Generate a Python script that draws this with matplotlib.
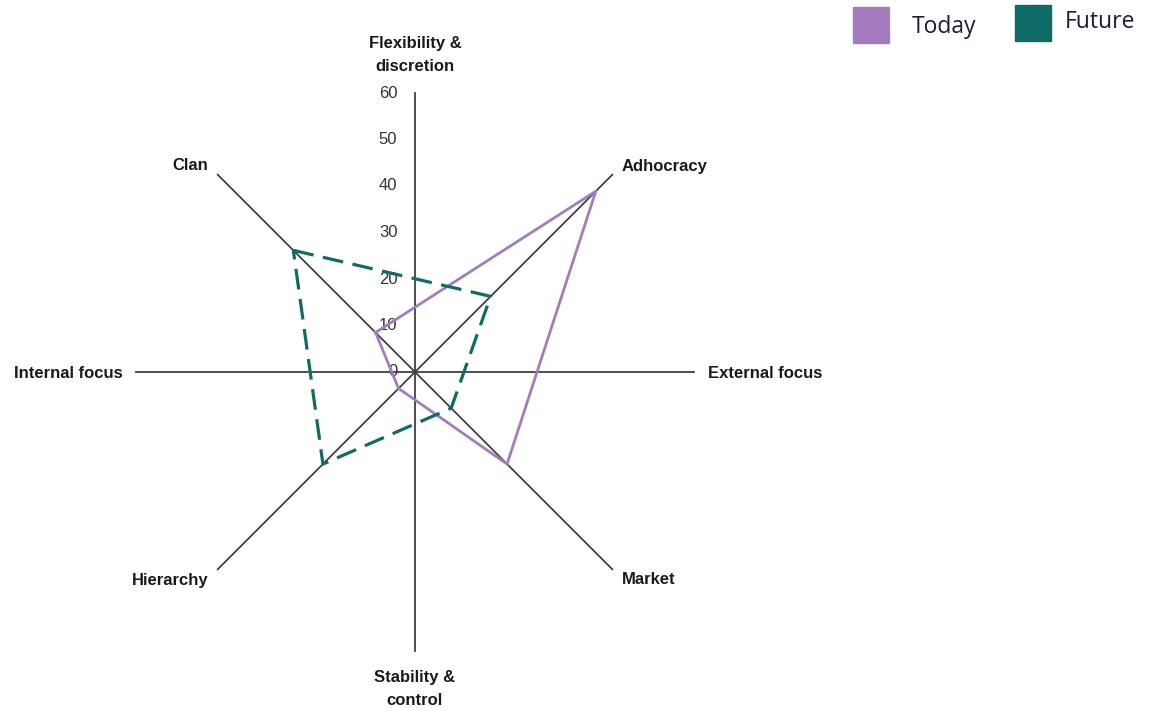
import numpy as np
import matplotlib.pyplot as plt
from matplotlib.patches import Rectangle

# competing values framework, 4 quadrants
quadrants = ['Clan', 'Adhocracy', 'Market', 'Hierarchy']
angles_deg = [135, 45, 315, 225]
today = [12, 55, 28, 5]
future = [37, 23, 11, 28]
ticks = [0, 10, 20, 30, 40, 50, 60]
r_max = 60

purple = '#A57BBE'
teal = '#0F6B66'
axis_col = '#404040'

W, H = 1155, 711
fig = plt.figure(figsize=(W / 100, H / 100), dpi=100)
ax = fig.add_axes([0, 0, 1, 1])

# pixel -> data scale: 4.65 px per unit, centre at (415, 372)
ppu = 4.65
cx, cy = 415, 372
ax.set_xlim(-cx / ppu, (W - cx) / ppu)
ax.set_ylim(-(H - cy) / ppu, cy / ppu)
ax.axis('off')

# spokes
ax.plot([-r_max, r_max], [0, 0], color=axis_col, lw=1.3, zorder=1)
ax.plot([0, 0], [-r_max, r_max], color=axis_col, lw=1.3, zorder=1)
for a in angles_deg:
    t = np.radians(a)
    ax.plot([0, r_max * np.cos(t)], [0, r_max * np.sin(t)], color=axis_col, lw=1.3, zorder=1)

# tick labels on vertical axis
for v in ticks:
    ax.text(-3.8, v, str(v), ha='right', va='center', fontsize=12,
            family='Liberation Sans', color='#333333', zorder=2)

def xy(vals):
    t = np.radians(angles_deg + angles_deg[:1])
    r = np.array(vals + vals[:1])
    return r * np.cos(t), r * np.sin(t)

x, y = xy(today)
ax.plot(x, y, color=purple, lw=2, zorder=3)
x, y = xy(future)
ax.plot(x, y, color=teal, lw=2.3, dashes=(6.5, 3), zorder=3)

lab = dict(fontsize=12, fontweight='bold', family='Liberation Sans', color='#1a1a1a')
def at(px, py):
    return (px - cx) / ppu, (cy - py) / ppu

ax.text(*at(415, 55), 'Flexibility &\ndiscretion', ha='center', va='center', linespacing=1.6, **lab)
ax.text(*at(415, 689), 'Stability &\ncontrol', ha='center', va='center', linespacing=1.6, **lab)
ax.text(*at(123, 373), 'Internal focus', ha='right', va='center', **lab)
ax.text(*at(708, 373), 'External focus', ha='left', va='center', **lab)
ax.text(*at(208, 166), 'Clan', ha='right', va='center', **lab)
ax.text(*at(622, 166), 'Adhocracy', ha='left', va='center', **lab)
ax.text(*at(209, 580), 'Hierarchy', ha='right', va='center', **lab)
ax.text(*at(622, 580), 'Market', ha='left', va='center', **lab)

# legend drawn by hand, top right
def fig_rect(px, py, w, h, c):
    fig.add_artist(Rectangle((px / W, 1 - (py + h) / H), w / W, h / H,
                             transform=fig.transFigure, color=c))

fig_rect(853, 7, 36, 36, purple)
fig_rect(1015, 5, 36, 36, teal)
fig.text(912 / W, 1 - 27 / H, 'Today', ha='left', va='center', fontsize=16.5,
         family='Open Sans', color='#1b1b3a')
fig.text(1065 / W, 1 - 22 / H, 'Future', ha='left', va='center', fontsize=16.5,
         family='Open Sans', color='#1b1b3a')

fig.savefig('out.png', dpi=100)
